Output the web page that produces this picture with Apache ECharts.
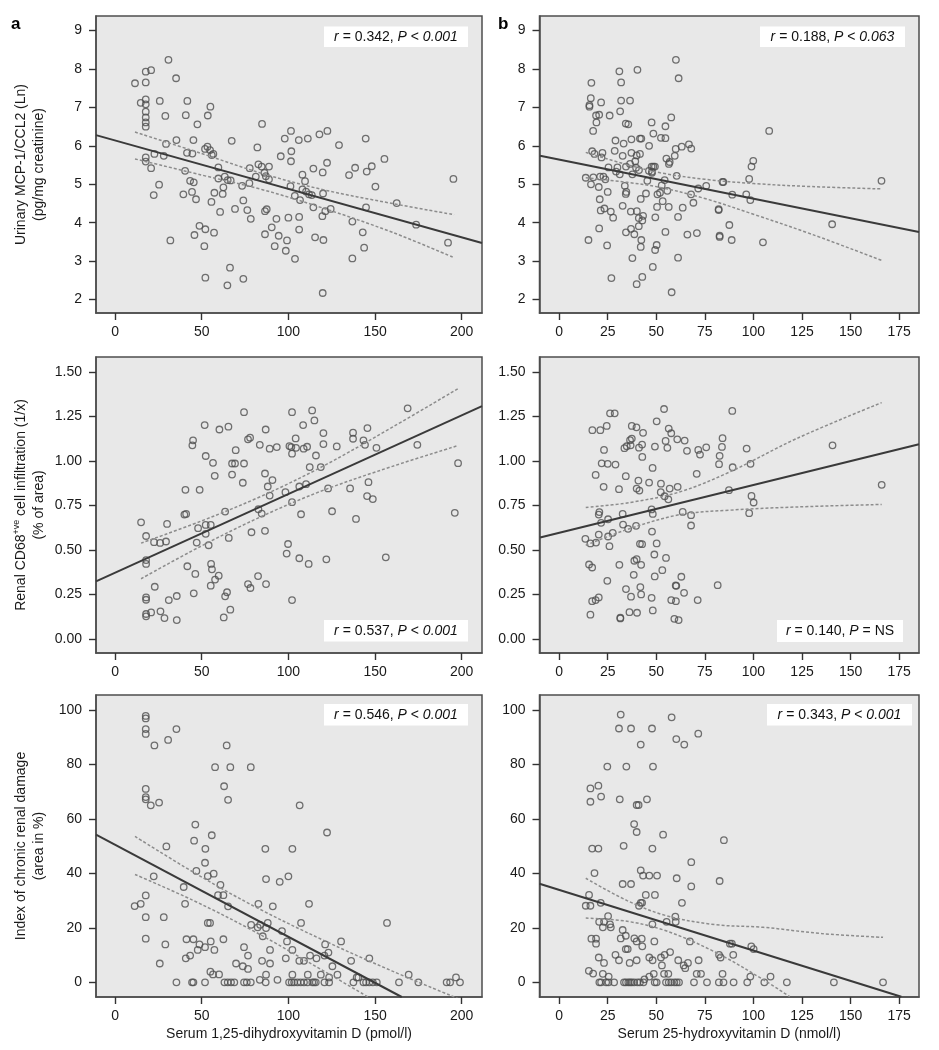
<!DOCTYPE html>
<html><head><meta charset="utf-8">
<script src="https://cdn.jsdelivr.net/npm/echarts@6/dist/echarts.min.js"></script>
<style>html,body{margin:0;padding:0;background:#fff}#c{width:939px;height:1050px}</style>
</head><body><div id="c"></div>
<script>
// ---------- tick labels ----------
const xTicksCalcitriol = [0, 50, 100, 150, 200];
const xTicksCalcidiol = [0, 25, 50, 75, 100, 125, 150, 175];
const yTicksMcp = [2, 3, 4, 5, 6, 7, 8, 9];
const yTicksCd68 = [0, 0.25, 0.5, 0.75, 1.0, 1.25, 1.5];
const yTicksDamage = [0, 20, 40, 60, 80, 100];

// ---------- axis titles ----------
const xNameCalcitriol = 'Serum 1,25-dihydroxyvitamin D (pmol/l)';
const xNameCalcidiol = 'Serum 25-hydroxyvitamin D (nmol/l)';

// ---------- statistics ----------
const rValues = ['0.342', '0.188', '0.537', '0.140', '0.546', '0.343'];
const pSigns = ['<', '<', '<', '=', '<', '<'];
const pValues = ['0.001', '0.063', '0.001', 'NS', '0.001', '0.001'];

// ---------- a: MCP-1 vs 1,25(OH)2D ----------
const mcpVsCalcitriol = [[11.5,7.63],[17.7,7.65],[17.7,7.93],[20.8,7.97],[30.8,8.24],[35.2,7.76],[14.8,7.12],[17.7,7.21],[17.7,7.08],[17.7,6.89],[17.7,6.74],[17.7,6.61],[17.7,6.50],[25.8,7.17],[29.0,6.78],[41.7,7.17],[40.8,6.80],[55.0,7.02],[53.5,6.79],[47.5,6.56],[35.4,6.15],[45.2,6.15],[29.4,6.05],[22.7,5.79],[28.1,5.74],[17.7,5.70],[17.7,5.59],[20.8,5.42],[25.4,4.99],[22.3,4.72],[41.5,5.82],[44.6,5.80],[40.4,5.35],[43.3,5.09],[45.4,5.05],[39.4,4.74],[44.4,4.80],[46.7,4.61],[53.3,5.98],[51.9,5.92],[54.8,5.89],[55.8,5.76],[56.7,5.79],[59.6,5.44],[59.6,5.15],[63.3,5.20],[65.0,5.11],[62.5,4.92],[62.1,4.75],[57.3,4.78],[55.6,4.54],[60.6,4.28],[67.3,6.13],[66.7,5.10],[69.2,4.36],[73.3,4.96],[74.0,4.58],[76.3,4.33],[78.3,4.10],[77.5,5.03],[77.7,5.42],[82.1,5.96],[84.8,6.57],[81.2,5.20],[82.7,5.52],[84.6,5.46],[88.8,5.46],[86.2,5.30],[87.0,5.21],[88.8,5.13],[86.5,4.30],[87.5,4.35],[86.5,3.70],[90.4,3.88],[93.1,4.10],[94.4,3.66],[92.1,3.39],[95.6,5.73],[97.9,6.19],[101.5,6.39],[101.7,5.86],[101.5,5.60],[101.2,4.95],[103.7,4.70],[100.0,4.13],[106.0,6.15],[111.2,6.19],[108.1,5.25],[109.6,5.08],[108.1,4.87],[110.2,4.81],[111.9,4.74],[113.5,4.72],[106.7,4.59],[106.2,4.15],[106.2,3.82],[99.2,3.54],[98.5,3.27],[103.8,3.06],[114.4,5.41],[119.8,5.31],[122.3,5.56],[117.9,6.30],[122.5,6.39],[129.2,6.02],[120.0,4.76],[114.4,4.40],[119.6,4.17],[121.3,4.30],[124.4,4.36],[115.4,3.62],[120.2,3.55],[119.8,2.17],[135.0,5.24],[138.5,5.43],[145.2,5.33],[148.1,5.47],[155.4,5.66],[144.6,6.19],[150.2,4.94],[144.8,4.40],[136.9,4.03],[142.9,3.75],[143.7,3.35],[136.9,3.07],[162.5,4.51],[173.7,3.95],[192.1,3.48],[195.2,5.14],[31.9,3.54],[48.7,3.92],[52.1,3.83],[57.1,3.74],[45.8,3.68],[51.5,3.39],[66.3,2.83],[64.8,2.37],[52.1,2.57],[74.0,2.54]];
const fitMcpCalcitriol = [[-11,6.28],[211.7,3.47]];
const upperMcpCalcitriol = [[11.5,6.36],[50,5.80],[85,5.28],[120,4.86],[160,4.50],[195.6,4.21]];
const lowerMcpCalcitriol = [[11.5,5.66],[50,5.24],[85,4.86],[120,4.38],[160,3.75],[195.6,3.09]];

// ---------- b: MCP-1 vs 25(OH)D ----------
const mcpVsCalcidiol = [[60.1,8.24],[61.5,7.76],[31.0,7.94],[40.3,7.98],[31.9,7.65],[16.6,7.64],[16.3,7.24],[15.6,7.06],[15.6,7.02],[21.6,7.13],[31.9,7.18],[36.5,7.18],[31.4,6.90],[19.0,6.79],[20.6,6.81],[26.0,6.79],[19.2,6.61],[17.5,6.39],[34.3,6.58],[35.6,6.56],[47.6,6.61],[57.7,6.74],[54.7,6.51],[48.5,6.32],[52.4,6.21],[54.7,6.20],[37.2,6.17],[41.6,6.19],[42.3,6.19],[29.0,6.14],[33.2,6.06],[46.3,6.00],[28.6,5.87],[37.2,5.82],[41.6,5.79],[39.9,5.75],[32.7,5.74],[17.0,5.86],[18.2,5.79],[22.3,5.82],[21.8,5.70],[60.0,5.92],[63.1,5.98],[66.8,6.04],[68.0,5.93],[59.5,5.74],[55.2,5.67],[56.9,5.58],[56.5,5.53],[39.2,5.60],[36.5,5.53],[34.4,5.46],[39.6,5.43],[25.4,5.44],[30.0,5.44],[29.3,5.33],[31.2,5.26],[37.7,5.26],[41.1,5.37],[47.6,5.46],[48.5,5.46],[49.3,5.46],[47.8,5.33],[46.2,5.35],[47.8,5.30],[45.4,5.09],[60.5,5.22],[54.3,5.11],[13.7,5.17],[17.6,5.18],[21.1,5.20],[22.8,5.20],[23.8,5.13],[16.4,5.00],[20.4,4.93],[25.0,4.80],[33.8,4.96],[34.6,4.80],[34.3,4.75],[44.7,4.76],[42.0,4.62],[50.6,4.74],[51.9,4.78],[52.8,4.97],[55.7,4.83],[67.9,4.74],[69.1,4.52],[71.6,4.89],[75.7,4.96],[84.5,5.06],[84.1,5.06],[89.1,4.73],[96.3,4.74],[98.4,4.59],[97.8,5.14],[99.0,5.46],[99.9,5.61],[108.1,6.39],[165.9,5.09],[20.9,4.61],[21.4,4.32],[23.3,4.37],[26.6,4.29],[27.8,4.13],[32.7,4.44],[36.9,4.29],[40.0,4.30],[41.0,4.12],[43.2,4.18],[42.8,4.06],[50.4,4.41],[53.3,4.56],[56.4,4.41],[49.5,4.14],[61.2,4.15],[63.6,4.39],[20.6,3.85],[34.4,3.75],[37.0,3.84],[38.7,3.70],[41.0,3.91],[42.3,3.55],[42.0,3.37],[50.2,3.42],[49.4,3.29],[54.7,3.76],[66.0,3.69],[70.9,3.73],[82.1,4.35],[82.1,4.33],[82.6,3.66],[82.6,3.63],[87.6,3.94],[88.8,3.55],[104.9,3.49],[140.5,3.96],[15.1,3.55],[24.7,3.41],[37.7,3.08],[48.2,2.85],[26.9,2.56],[39.9,2.40],[42.8,2.59],[57.9,2.19],[61.2,3.09]];
const fitMcpCalcidiol = [[-9.8,5.74],[185.2,3.76]];
const upperMcpCalcidiol = [[13.7,5.83],[35,5.51],[52,5.30],[75,5.13],[100,5.02],[130,4.94],[165.9,4.88]];
const lowerMcpCalcidiol = [[13.7,5.17],[35,5.05],[52,4.92],[75,4.63],[100,4.22],[130,3.70],[165.9,3.02]];

// ---------- a: CD68 vs 1,25(OH)2D ----------
const cd68VsCalcitriol = [[15.0,0.656],[17.9,0.579],[22.5,0.544],[26.0,0.540],[29.4,0.548],[30.0,0.647],[17.9,0.444],[17.9,0.422],[22.9,0.294],[17.9,0.234],[17.9,0.221],[17.9,0.141],[17.9,0.128],[20.8,0.150],[26.2,0.156],[28.5,0.118],[31.0,0.219],[35.6,0.242],[35.6,0.107],[40.0,0.699],[41.0,0.703],[40.6,0.838],[48.8,0.838],[41.7,0.409],[46.3,0.366],[45.4,0.257],[47.9,0.623],[47.1,0.542],[52.3,0.641],[55.2,0.641],[52.3,0.591],[54.0,0.527],[55.4,0.422],[55.9,0.392],[59.8,0.356],[57.7,0.334],[55.2,0.300],[63.5,0.240],[64.6,0.263],[66.5,0.165],[62.7,0.122],[63.5,0.716],[65.6,0.568],[45.0,1.116],[44.6,1.088],[51.7,1.202],[52.3,1.028],[56.5,0.990],[57.5,0.917],[60.2,1.177],[65.4,1.193],[69.6,1.061],[67.5,0.986],[69.2,0.986],[67.5,0.924],[74.4,0.986],[73.7,0.878],[74.4,1.274],[76.7,1.122],[77.9,1.131],[83.5,1.091],[86.9,1.177],[89.2,1.069],[93.3,1.078],[86.5,0.930],[90.8,0.893],[88.1,0.857],[89.2,0.806],[82.7,0.729],[84.6,0.705],[78.7,0.600],[86.5,0.608],[76.7,0.309],[78.1,0.287],[82.5,0.354],[87.1,0.309],[98.3,0.825],[102.1,0.769],[107.3,0.701],[99.8,0.534],[99.0,0.480],[106.3,0.454],[111.7,0.422],[102.1,0.219],[102.1,1.274],[100.6,1.084],[101.7,1.078],[104.4,1.074],[104.2,1.127],[102.1,1.041],[108.8,1.069],[110.8,1.080],[108.5,1.202],[113.7,1.284],[115.0,1.228],[115.9,1.031],[112.3,0.966],[118.7,0.966],[106.3,0.857],[110.2,0.870],[120.2,1.157],[120.2,1.095],[127.9,1.082],[122.9,0.846],[125.2,0.718],[121.9,0.448],[135.6,0.846],[139.0,0.675],[137.3,1.159],[137.3,1.125],[145.6,1.185],[143.3,1.116],[144.2,1.091],[150.8,1.074],[146.2,0.881],[145.4,0.803],[148.7,0.786],[156.2,0.459],[168.8,1.296],[174.4,1.091],[197.9,0.988],[196.0,0.709]];
const fitCd68Calcitriol = [[-11,0.324],[211.7,1.308]];
const upperCd68Calcitriol = [[15,0.539],[50,0.664],[85,0.805],[120,0.971],[160,1.190],[198,1.407]];
const lowerCd68Calcitriol = [[15,0.339],[50,0.524],[85,0.691],[120,0.835],[160,0.970],[198,1.087]];

// ---------- b: CD68 vs 25(OH)D ----------
const cd68VsCalcidiol = [[54.0,1.292],[26.2,1.268],[28.6,1.268],[89.1,1.281],[50.2,1.223],[17.1,1.173],[21.2,1.173],[24.5,1.197],[37.4,1.197],[39.8,1.189],[43.2,1.158],[56.4,1.182],[57.7,1.156],[60.8,1.122],[64.6,1.115],[84.1,1.128],[36.5,1.117],[37.4,1.126],[23.1,1.062],[33.6,1.072],[34.8,1.083],[36.8,1.088],[41.1,1.075],[42.7,1.092],[49.3,1.081],[54.8,1.113],[55.7,1.074],[65.8,1.057],[71.6,1.062],[72.5,1.036],[75.7,1.077],[83.8,1.079],[82.6,1.029],[82.3,0.982],[96.5,1.070],[98.5,0.984],[89.3,0.965],[21.9,0.987],[25.0,0.984],[29.0,0.980],[42.8,1.023],[48.1,0.961],[18.8,0.922],[34.3,0.915],[40.8,0.890],[46.3,0.879],[52.4,0.873],[70.8,0.928],[22.9,0.855],[30.8,0.842],[39.9,0.845],[41.3,0.834],[52.3,0.825],[54.3,0.802],[56.2,0.785],[56.9,0.845],[61.0,0.855],[87.4,0.836],[99.0,0.804],[100.1,0.767],[97.8,0.707],[47.6,0.728],[48.2,0.703],[20.7,0.713],[20.4,0.699],[32.7,0.703],[25.2,0.673],[21.6,0.653],[32.9,0.643],[35.5,0.619],[39.6,0.636],[63.6,0.714],[67.9,0.696],[67.9,0.638],[47.8,0.604],[13.5,0.563],[16.1,0.537],[19.0,0.542],[20.4,0.587],[25.2,0.576],[27.6,0.597],[25.9,0.522],[41.6,0.535],[42.7,0.533],[50.2,0.537],[49.0,0.475],[55.0,0.456],[38.7,0.440],[39.9,0.449],[42.2,0.417],[15.4,0.419],[17.0,0.402],[31.0,0.417],[53.1,0.387],[38.4,0.361],[49.2,0.352],[62.9,0.350],[24.8,0.327],[60.0,0.301],[60.3,0.299],[81.6,0.303],[34.4,0.281],[41.8,0.292],[42.2,0.251],[37.0,0.238],[47.6,0.232],[64.3,0.260],[17.0,0.213],[18.8,0.219],[20.4,0.234],[57.7,0.219],[60.1,0.213],[71.3,0.219],[16.1,0.137],[36.2,0.151],[40.1,0.148],[48.2,0.161],[31.5,0.120],[31.5,0.116],[59.3,0.114],[61.5,0.107],[140.7,1.088],[166.0,0.866]];
const fitCd68Calcidiol = [[-9.8,0.570],[185.2,1.094]];
const upperCd68Calcidiol = [[13.7,0.739],[36.5,0.767],[62.2,0.827],[87.9,0.939],[122.2,1.126],[166,1.328]];
const lowerCd68Calcidiol = [[13.7,0.527],[36.5,0.621],[62.2,0.699],[87.9,0.724],[122.2,0.742],[166,0.756]];

// ---------- a: renal damage vs 1,25(OH)2D ----------
const damageVsCalcitriol = [[17.7,97.8],[17.7,96.9],[17.7,93.0],[17.7,91.2],[35.4,93.0],[22.7,87.0],[30.6,89.0],[64.4,87.0],[57.7,79.0],[66.5,79.0],[78.3,79.0],[62.9,72.0],[65.2,67.0],[17.7,71.0],[17.7,68.0],[17.7,67.2],[20.6,65.0],[25.4,66.0],[106.5,65.0],[122.3,55.0],[46.3,57.9],[45.6,52.0],[55.8,54.0],[29.6,49.9],[52.1,49.0],[51.9,43.9],[46.9,40.9],[53.5,39.0],[56.9,39.9],[22.3,38.9],[60.8,35.8],[39.6,35.0],[59.4,32.0],[62.5,32.0],[17.7,31.9],[11.3,28.0],[14.8,28.8],[40.4,28.8],[65.2,27.9],[86.7,49.0],[102.3,49.0],[87.1,37.9],[95.0,36.9],[100.0,38.9],[82.7,28.8],[91.0,27.9],[111.9,28.8],[17.7,23.9],[28.1,23.9],[53.5,21.8],[54.8,21.8],[78.5,21.1],[82.3,20.2],[83.7,21.1],[88.1,21.8],[87.1,19.9],[85.2,16.9],[96.3,18.8],[107.3,21.8],[156.9,21.8],[17.7,16.0],[29.0,13.9],[41.2,15.8],[45.2,15.8],[48.7,13.9],[47.7,11.9],[51.9,12.9],[55.2,15.0],[57.3,11.9],[62.5,15.8],[40.8,8.8],[43.3,9.8],[25.8,6.9],[74.4,12.9],[76.7,9.8],[69.8,6.9],[73.7,5.9],[76.7,4.9],[84.8,7.9],[89.4,11.9],[89.4,6.9],[99.2,15.0],[102.3,11.9],[98.5,8.8],[106.3,7.9],[109.0,7.9],[112.5,9.8],[116.2,8.8],[121.2,13.9],[123.1,10.9],[120.8,9.8],[125.4,5.9],[130.4,15.0],[136.2,7.9],[146.7,8.8],[55.0,3.9],[56.5,2.9],[60.0,2.9],[83.5,0.9],[87.1,2.8],[93.7,0.9],[102.3,2.8],[111.2,2.8],[118.7,2.8],[123.5,1.8],[128.3,2.8],[139.4,1.8],[140.4,1.8],[169.4,2.8],[196.7,1.8],[35.4,0],[44.4,0],[45.2,0],[51.9,0],[63.1,0],[65.0,0],[66.9,0],[68.8,0],[74.4,0],[76.0,0],[78.3,0],[86.9,0],[100.4,0],[101.9,0],[103.3,0],[105.2,0],[107.1,0],[109.0,0],[111.0,0],[113.8,0],[114.8,0],[115.8,0],[120.8,0],[123.5,0],[137.5,0],[143.3,0],[144.8,0],[146.7,0],[148.7,0],[151.0,0],[163.8,0],[175.0,0],[191.3,0],[193.3,0],[199.0,0]];
const fitDamageCalcitriol = [[-11,54.2],[165.4,-5.4]];
const upperDamageCalcitriol = [[11.5,53.6],[45,40.5],[80,28.0],[120,15.5],[160,4.1],[198,-6.0]];
const lowerDamageCalcitriol = [[11.5,39.6],[45,30.1],[80,18.8],[120,4.3],[146.2,-5.5]];

// ---------- b: renal damage vs 25(OH)D ----------
const damageVsCalcidiol = [[31.7,98.3],[57.9,97.3],[30.8,93.2],[37.0,93.2],[47.8,93.2],[60.3,89.3],[64.4,87.3],[71.6,91.3],[42.0,87.3],[24.8,79.2],[34.6,79.2],[48.3,79.2],[16.1,71.2],[20.2,72.2],[16.1,66.3],[21.6,68.2],[31.2,67.2],[39.9,65.1],[40.9,65.1],[45.2,67.2],[38.6,58.1],[39.9,55.2],[53.5,54.2],[84.8,52.2],[17.0,49.1],[20.2,49.1],[33.2,50.1],[48.0,49.1],[68.0,44.1],[18.2,40.1],[42.0,41.1],[43.2,39.2],[46.4,39.2],[50.4,39.2],[60.5,38.2],[32.7,36.1],[37.0,36.1],[68.0,35.2],[82.6,37.2],[15.4,32.1],[44.6,32.1],[49.3,32.1],[13.7,28.1],[16.1,28.1],[21.4,29.2],[41.1,28.1],[42.0,29.2],[42.7,29.2],[63.2,29.2],[25.2,24.3],[20.6,22.2],[23.1,22.2],[26.2,21.3],[22.5,20.2],[26.6,20.2],[48.0,21.3],[55.3,22.2],[59.8,24.1],[60.0,22.2],[32.7,19.2],[34.3,17.1],[31.7,16.1],[16.6,16.0],[19.0,16.0],[19.0,14.2],[38.7,16.1],[39.9,15.0],[42.5,16.0],[49.0,15.0],[42.8,13.2],[67.3,15.0],[87.9,14.2],[88.9,14.2],[98.9,13.2],[100.1,12.2],[34.3,12.2],[35.3,12.2],[29.0,10.1],[30.8,8.1],[20.4,9.1],[23.1,7.1],[36.3,7.1],[39.9,8.1],[46.4,9.1],[48.1,8.1],[52.4,9.1],[54.3,10.1],[57.1,11.1],[52.9,6.2],[61.3,8.1],[64.1,6.2],[64.9,5.2],[66.3,7.1],[71.8,8.1],[82.3,10.1],[83.1,9.1],[89.6,10.1],[15.3,4.2],[17.5,3.2],[22.5,3.1],[25.5,2.1],[43.9,1.1],[46.4,2.1],[48.7,3.1],[54.0,3.1],[56.2,3.1],[70.8,3.1],[73.0,3.1],[84.1,3.1],[98.4,2.1],[108.8,2.1],[20.7,0],[21.6,0],[24.2,0],[25.4,0],[28.3,0],[33.4,0],[34.4,0],[35.6,0],[36.5,0],[37.4,0],[38.6,0],[40.3,0],[41.6,0],[43.4,0],[49.2,0],[50.2,0],[55.0,0],[56.4,0],[57.7,0],[59.3,0],[60.5,0],[61.7,0],[69.4,0],[76.1,0],[82.2,0],[84.6,0],[89.8,0],[96.8,0],[105.6,0],[117.2,0],[141.4,0],[166.7,0]];
const fitDamageCalcidiol = [[-10.1,36.2],[176.1,-5.3]];
const upperDamageCalcidiol = [[13.7,38.2],[35,30.0],[55,24.5],[80,21.2],[105,20.2],[135,17.9],[166.7,16.5]];
const lowerDamageCalcidiol = [[13.7,23.6],[35,22.4],[55,18.9],[80,11.2],[105,1.0],[118.7,-5.3]];

// ---------- layout ----------
const FONT = '"Liberation Sans", Arial, Helvetica, sans-serif';
const nameRich = {
  n: {fontSize: 14, fontFamily: FONT, color: '#1a1a1a', lineHeight: 18},
  s: {fontSize: 9, fontFamily: FONT, color: '#1a1a1a', verticalAlign: 'top'}
};
const panels = [
  {grid:{left:96,top:16,width:386,height:297}, x:[-11,211.7], y:[1.65,9.38], xt:xTicksCalcitriol, yt:yTicksMcp, dec:0,
   pts:mcpVsCalcitriol, fit:fitMcpCalcitriol, up:upperMcpCalcitriol, lo:lowerMcpCalcitriol,
   yname:'{n|Urinary MCP-1/CCL2 (Ln)}\n{n|(pg/mg creatinine)}', box:[324,26.5,144,20.5]},
  {grid:{left:539.5,top:16,width:379.5,height:297}, x:[-10.1,185.2], y:[1.65,9.38], xt:xTicksCalcidiol, yt:yTicksMcp, dec:0,
   pts:mcpVsCalcidiol, fit:fitMcpCalcidiol, up:upperMcpCalcidiol, lo:lowerMcpCalcidiol, box:[760,26.5,145,20.5]},
  {grid:{left:96,top:357,width:386,height:296}, x:[-11,211.7], y:[-0.078,1.584], xt:xTicksCalcitriol, yt:yTicksCd68, dec:2,
   pts:cd68VsCalcitriol, fit:fitCd68Calcitriol, up:upperCd68Calcitriol, lo:lowerCd68Calcitriol,
   yname:'{n|Renal CD68}{s|+ve}{n| cell infiltration (1/x)}\n{n|(% of area)}', box:[324,620,144,21.5]},
  {grid:{left:539.5,top:357,width:379.5,height:296}, x:[-10.1,185.2], y:[-0.078,1.584], xt:xTicksCalcidiol, yt:yTicksCd68, dec:2,
   pts:cd68VsCalcidiol, fit:fitCd68Calcidiol, up:upperCd68Calcidiol, lo:lowerCd68Calcidiol, box:[777,620,126,22]},
  {grid:{left:96,top:695,width:386,height:302}, x:[-11,211.7], y:[-5.4,105.5], xt:xTicksCalcitriol, yt:yTicksDamage, dec:0,
   pts:damageVsCalcitriol, fit:fitDamageCalcitriol, up:upperDamageCalcitriol, lo:lowerDamageCalcitriol,
   yname:'{n|Index of chronic renal damage}\n{n|(area in %)}', xname:xNameCalcitriol, box:[324,704,144,21.5]},
  {grid:{left:539.5,top:695,width:379.5,height:302}, x:[-10.1,185.2], y:[-5.4,105.5], xt:xTicksCalcidiol, yt:yTicksDamage, dec:0,
   pts:damageVsCalcidiol, fit:fitDamageCalcidiol, up:upperDamageCalcidiol, lo:lowerDamageCalcidiol,
   xname:xNameCalcidiol, box:[767,704,145,21.5]}
];

const grids = [], xAxes = [], yAxes = [], series = [], graphics = [];
const labelStyle = {color: '#1a1a1a', fontSize: 14, fontFamily: FONT};
const tickStyle = {color: '#333', width: 1.4};
const axisLineStyle = {show: true, onZero: false, lineStyle: {color: '#4d4d4d', width: 1.5}};
panels.forEach((p, i) => {
  grids.push(Object.assign({show: true, backgroundColor: '#e8e8e8', borderColor: '#4d4d4d', borderWidth: 1.5, containLabel: false}, p.grid));
  xAxes.push({
    gridIndex: i, type: 'value', min: p.x[0], max: p.x[1], position: 'bottom',
    axisLine: axisLineStyle, splitLine: {show: false},
    axisTick: {show: true, inside: false, customValues: p.xt, length: 7, lineStyle: tickStyle},
    axisLabel: Object.assign({customValues: p.xt, margin: 12}, labelStyle),
    name: p.xname || '', nameLocation: 'middle', nameGap: 30,
    nameTextStyle: {fontSize: 14, fontFamily: FONT, color: '#1a1a1a'}
  });
  yAxes.push({
    gridIndex: i, type: 'value', min: p.y[0], max: p.y[1], position: 'left',
    axisLine: axisLineStyle, splitLine: {show: false},
    axisTick: {show: true, inside: false, customValues: p.yt, length: 7, lineStyle: tickStyle},
    axisLabel: Object.assign({customValues: p.yt, margin: 14, formatter: v => Number(v).toFixed(p.dec)}, labelStyle),
    name: p.yname || '', nameLocation: 'middle', nameGap: 48, nameRotate: 90,
    nameTextStyle: {rich: nameRich, fontSize: 14, fontFamily: FONT, color: '#1a1a1a', lineHeight: 18}
  });
  series.push({type: 'scatter', xAxisIndex: i, yAxisIndex: i, data: p.pts, symbol: 'circle', symbolSize: 6.5,
    itemStyle: {color: 'rgba(0,0,0,0)', borderColor: '#4f4f4f', borderWidth: 1.3}, silent: true, z: 2});
  series.push({type: 'line', xAxisIndex: i, yAxisIndex: i, data: p.up, smooth: 0.35, symbol: 'none', clip: true,
    lineStyle: {color: '#8c8c8c', width: 1.5, type: [3, 2]}, silent: true, z: 3});
  series.push({type: 'line', xAxisIndex: i, yAxisIndex: i, data: p.lo, smooth: 0.35, symbol: 'none', clip: true,
    lineStyle: {color: '#8c8c8c', width: 1.5, type: [3, 2]}, silent: true, z: 3});
  series.push({type: 'line', xAxisIndex: i, yAxisIndex: i, data: p.fit, symbol: 'none', clip: true,
    lineStyle: {color: '#3a3a3a', width: 2}, silent: true, z: 4});
  const b = p.box;
  const ptext = pValues[i] === 'NS' ? '{n|' + pValues[i] + '}' : '{i|' + pValues[i] + '}';
  graphics.push({type: 'rect', shape: {x: b[0], y: b[1], width: b[2], height: b[3]}, style: {fill: '#fff'}, z: 100, silent: true});
  graphics.push({type: 'text', x: b[0] + b[2] / 2, y: b[1] + b[3] / 2 + 0.5, z: 101, silent: true,
    style: {text: '{i|r}{n| = ' + rValues[i] + ', }{i|P}{n| ' + pSigns[i] + ' }' + ptext,
      align: 'center', verticalAlign: 'middle',
      rich: {i: {fontStyle: 'italic', fontSize: 14, fontFamily: FONT, fill: '#111'},
             n: {fontSize: 14, fontFamily: FONT, fill: '#111'}}}});
});
graphics.push({type: 'text', x: 11, y: 24, style: {text: 'a', font: 'bold 17px ' + FONT, fill: '#000', verticalAlign: 'middle'}});
graphics.push({type: 'text', x: 498, y: 24, style: {text: 'b', font: 'bold 17px ' + FONT, fill: '#000', verticalAlign: 'middle'}});

const chart = echarts.init(document.getElementById('c'), null, {renderer: 'canvas'});
chart.setOption({
  animation: false, backgroundColor: '#fff',
  grid: grids, xAxis: xAxes, yAxis: yAxes, series: series, graphic: graphics
});
</script>
</body></html>
